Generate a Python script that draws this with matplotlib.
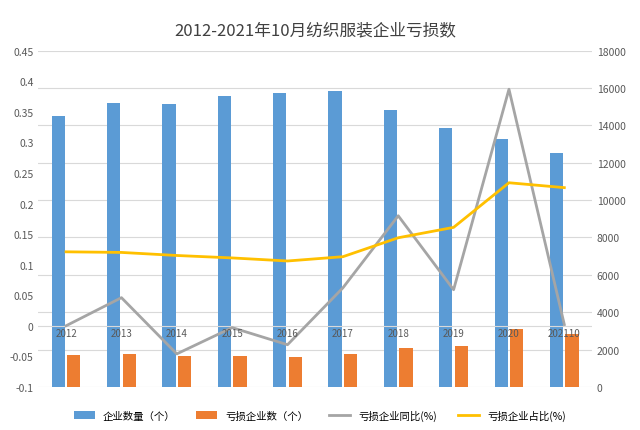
import matplotlib.pyplot as plt
import numpy as np

plt.rcParams['font.family'] = ['Noto Sans CJK SC']

years = ['2012', '2013', '2014', '2015', '2016', '2017', '2018', '2019', '2020', '202110']
companies = [14500, 15200, 15150, 15600, 15750, 15850, 14850, 13850, 13300, 12550]
loss_companies = [1710, 1770, 1660, 1660, 1610, 1770, 2090, 2200, 3100, 2840]
loss_yoy = [0.0, 0.046, -0.046, -0.003, -0.031, 0.062, 0.18, 0.059, 0.387, 0.002]
loss_share = [0.121, 0.120, 0.115, 0.111, 0.106, 0.113, 0.144, 0.161, 0.234, 0.226]

blue, orange, gray, gold = '#5b9bd5', '#ed7d31', '#a5a5a5', '#ffc000'

fig, ax = plt.subplots(figsize=(6.4, 4.31), dpi=100)
fig.subplots_adjust(left=0.06, right=0.925, top=0.88, bottom=0.1)
ax2 = ax.twinx()
x = np.arange(len(years))
w = 0.24
b1 = ax2.bar(x - 0.14, companies, w, color=blue, label='企业数量（个）')
b2 = ax2.bar(x + 0.14, loss_companies, w, color=orange, label='亏损企业数（个）')
ax2.set_ylim(0, 18000)
ax2.set_yticks(range(0, 18001, 2000))

ax.set_zorder(ax2.get_zorder() + 1)
ax.patch.set_visible(False)
l1, = ax.plot(x, loss_yoy, color=gray, lw=2, label='亏损企业同比(%)')
l2, = ax.plot(x, loss_share, color=gold, lw=2, label='亏损企业占比(%)')
ax.set_ylim(-0.1, 0.45)
ax.set_yticks(np.arange(-0.1, 0.451, 0.05))
ax.set_yticklabels(['-0.1', '-0.05', '0', '0.05', '0.1', '0.15', '0.2', '0.25', '0.3', '0.35', '0.4', '0.45'])
ax.set_xlim(-0.5, len(years) - 0.5)
ax.set_xticks([])
ax.axhline(0, color='#d9d9d9', lw=0.8, zorder=0)
for i, y in enumerate(years):
    ax.text(i, -0.003, y, ha='center', va='top', fontsize=7, color='#595959')

ax2.grid(axis='y', color='#d9d9d9', lw=0.8)
ax2.set_axisbelow(True)
for a in (ax, ax2):
    for s in a.spines.values():
        s.set_visible(False)
    a.tick_params(length=0, labelsize=7.5, colors='#595959')

ax.set_title('2012-2021年10月纺织服装企业亏损数', fontsize=12, color='#404040', pad=12)
fig.legend([b1, b2, l1, l2], [b1.get_label(), b2.get_label(), l1.get_label(), l2.get_label()],
           loc='lower center', ncol=4, frameon=False, fontsize=7.5, bbox_to_anchor=(0.5, 0.0))
fig.savefig('out.png')
